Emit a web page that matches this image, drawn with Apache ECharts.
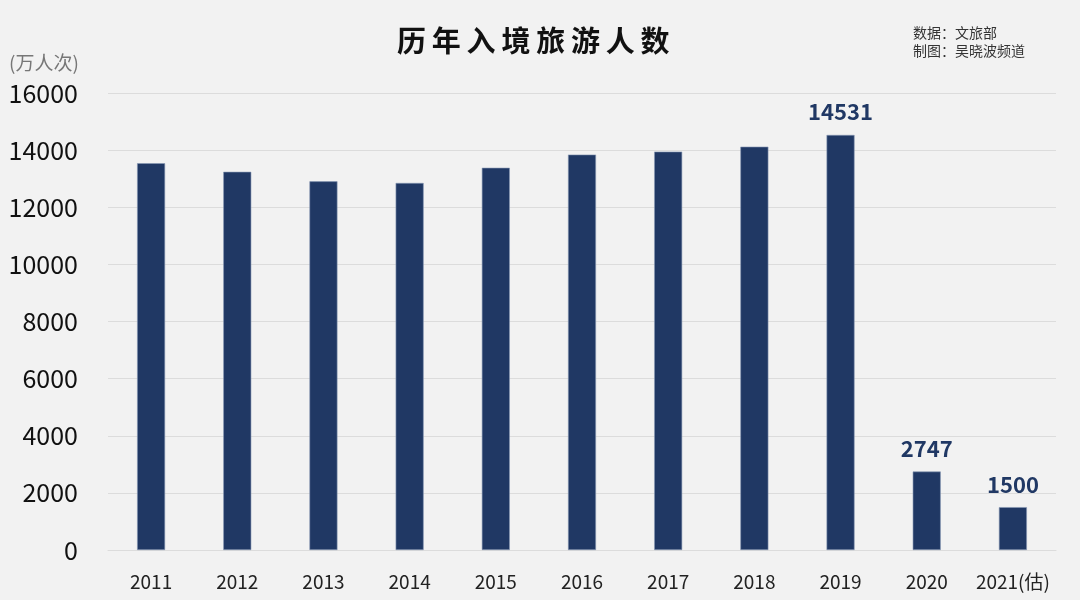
<!DOCTYPE html>
<html><head><meta charset="utf-8">
<script src="https://cdn.jsdelivr.net/npm/echarts@6/dist/echarts.min.js"></script>
<style>html,body{margin:0;padding:0;background:#f2f2f2}#c{width:1080px;height:600px}</style>
</head><body><div id="c"></div>
<script>
const categories = ['2011','2012','2013','2014','2015','2016','2017','2018','2019','2020','2021(估)'];
const values = [13542,13241,12908,12850,13382,13844,13948,14120,14531,2747,1500];
const labeledIdx = [8,9,10];
const yTicks = {min:0, max:16000, interval:2000};
const titleText = '历年入境旅游人数';

const chart = echarts.init(document.getElementById('c'));
chart.setOption({
  backgroundColor:'#f2f2f2',
  title:[
    {text:titleText.split('').join('\u2009'), left:392, top:21,
     textStyle:{fontFamily:'Noto Sans CJK SC', fontWeight:'bold', fontSize:29, color:'#111'}},
    {text:'数据：文旅部\n制图：吴晓波频道', left:908, top:19,
     textStyle:{fontFamily:'Noto Sans CJK SC', fontWeight:'normal', fontSize:14, color:'#333', lineHeight:18}},
    {text:'(万人次)', left:4, top:48,
     textStyle:{fontFamily:'Noto Sans CJK SC', fontWeight:'normal', fontSize:19, color:'#777'}}
  ],
  grid:{left:108, right:24, top:93, bottom:50},
  xAxis:{type:'category', data:categories,
    axisLine:{show:true, lineStyle:{color:'#dcdcdc'}}, axisTick:{show:false},
    axisLabel:{interval:0, color:'#222', fontSize:19, fontFamily:'Noto Sans CJK SC', margin:22}},
  yAxis:{type:'value', min:yTicks.min, max:yTicks.max, interval:yTicks.interval,
    axisLine:{show:false}, axisTick:{show:false},
    splitLine:{lineStyle:{color:'#dcdcdc'}},
    axisLabel:{color:'#111', fontSize:25, fontFamily:'Noto Sans CJK SC', margin:30, formatter:v=>String(v)}},
  series:[{type:'bar', barWidth:28,
    data: values.map((v,i)=>({value:v, label:{show: labeledIdx.includes(i)}})),
    itemStyle:{color:'#203864', borderColor:'#8797b3', borderWidth:0.6},
    label:{position:'top', distance:12, color:'#203864', fontWeight:'bold', fontSize:22, fontFamily:'Noto Sans CJK SC'}
  }]
});
</script></body></html>
